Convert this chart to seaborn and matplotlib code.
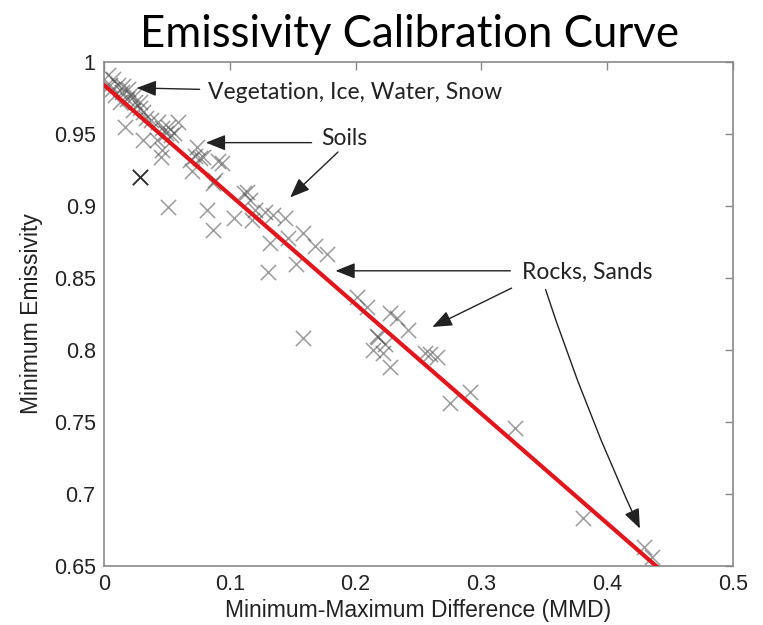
import numpy as np
import pandas as pd
import matplotlib
matplotlib.use("Agg")
import matplotlib.pyplot as plt
import seaborn as sns

# ---- data ----
mmd = [0.003, 0.007, 0.005, 0.011, 0.015, 0.009, 0.014, 0.013, 0.017, 0.023,
       0.025, 0.029, 0.029, 0.023, 0.031, 0.031, 0.043, 0.046, 0.051, 0.056,
       0.053, 0.059, 0.042, 0.046, 0.045, 0.029, 0.074, 0.072, 0.076, 0.068,
       0.070, 0.091, 0.088, 0.019, 0.021, 0.018, 0.006, 0.033, 0.037, 0.049,
       0.079, 0.094, 0.087, 0.082, 0.087, 0.051, 0.103, 0.114, 0.116, 0.120,
       0.118, 0.128, 0.134, 0.144, 0.132, 0.146, 0.158, 0.168, 0.177, 0.153,
       0.130, 0.111,
       0.201, 0.209, 0.227, 0.233, 0.242, 0.218, 0.214, 0.223, 0.222, 0.227,
       0.217, 0.255, 0.259, 0.265, 0.291, 0.275, 0.327, 0.381, 0.429, 0.436,
       0.158]
min_emis = [0.991, 0.988, 0.984, 0.984, 0.983, 0.977, 0.979, 0.972, 0.955, 0.976,
            0.972, 0.972, 0.968, 0.967, 0.946, 0.965, 0.958, 0.954, 0.955, 0.951,
            0.949, 0.958, 0.946, 0.939, 0.934, 0.920, 0.941, 0.935, 0.933, 0.932,
            0.924, 0.931, 0.918, 0.981, 0.977, 0.974, 0.981, 0.961, 0.960, 0.951,
            0.934, 0.930, 0.916, 0.897, 0.883, 0.899, 0.892, 0.910, 0.904, 0.897,
            0.890, 0.896, 0.894, 0.892, 0.874, 0.878, 0.881, 0.872, 0.867, 0.860,
            0.854, 0.909,
            0.837, 0.830, 0.826, 0.822, 0.814, 0.809, 0.800, 0.804, 0.798, 0.788,
            0.810, 0.798, 0.797, 0.795, 0.771, 0.763, 0.746, 0.683, 0.663, 0.656,
            0.808]
dark_mmd = [0.029]
dark_emis = [0.920]

fit_intercept = 0.984
fit_slope = -0.761
fit_x = [0.0, 0.44]

title = "Emissivity Calibration Curve"
xlabel = "Minimum-Maximum Difference (MMD)"
ylabel = "Minimum Emissivity"
xticks = [0, 0.1, 0.2, 0.3, 0.4, 0.5]
xticklabels = ["0", "0.1", "0.2", "0.3", "0.4", "0.5"]
yticks = [0.65, 0.7, 0.75, 0.8, 0.85, 0.9, 0.95, 1.0]
yticklabels = ["0.65", "0.7", "0.75", "0.8", "0.85", "0.9", "0.95", "1"]

# ---- figure ----
sns.set_style("white")
plt.rcParams["font.family"] = ["Liberation Sans", "DejaVu Sans"]

fig = plt.figure(figsize=(7.63, 6.25), dpi=100)
ax = fig.add_axes([0.1363, 0.0944, 0.8244, 0.8064])

df = pd.DataFrame({"mmd": mmd, "emis": min_emis})
sns.scatterplot(data=df, x="mmd", y="emis", ax=ax, marker="x", s=120,
                color="#4a4a4a", alpha=0.55, linewidth=1.1, zorder=2)
sns.scatterplot(x=dark_mmd, y=dark_emis, ax=ax, marker="x", s=120,
                color="#222222", alpha=0.9, linewidth=1.3, zorder=2)

line_df = pd.DataFrame({"x": fit_x,
                        "y": [fit_intercept + fit_slope * v for v in fit_x]})
sns.lineplot(data=line_df, x="x", y="y", ax=ax, color="#e0161c", linewidth=3,
             zorder=3)

ax.set_xlim(0, 0.5)
ax.set_ylim(0.65, 1.0)
ax.set_xticks(xticks)
ax.set_xticklabels(xticklabels)
ax.set_yticks(yticks)
ax.set_yticklabels(yticklabels)
ax.tick_params(direction="in", length=6, width=1, color="#888888",
               labelsize=15.5, labelcolor="#222222", top=True, right=True, pad=6)
for sp in ax.spines.values():
    sp.set_visible(True)
    sp.set_color("#8a8a8a")
    sp.set_linewidth(1.2)

ax.set_xlabel(xlabel, fontsize=16.5, color="#222222", labelpad=3)
ax.set_ylabel(ylabel, fontsize=16.5, color="#222222", labelpad=8)

fig.suptitle(title, x=0.537, y=0.978, fontsize=31.5, family=["Lato", "DejaVu Sans"],
             color="black", va="top")

# ---- annotations ----
afont = dict(fontsize=16.5, family=["Lato", "DejaVu Sans"], color="#222222",
             va="center", ha="left")
aprops = dict(arrowstyle="-|>,head_length=0.75,head_width=0.3", color="#222222",
              lw=1.0, shrinkA=0, shrinkB=0, mutation_scale=16)

ax.annotate("", xy=(0.026, 0.982), xytext=(0.076, 0.981), arrowprops=aprops)
ax.text(0.083, 0.979, "Vegetation, Ice, Water, Snow", **afont)

ax.text(0.173, 0.947, "Soils", **afont)
ax.annotate("", xy=(0.081, 0.944), xytext=(0.165, 0.944), arrowprops=aprops)
ax.annotate("", xy=(0.148, 0.906), xytext=(0.186, 0.9375), arrowprops=aprops)

ax.text(0.332, 0.854, "Rocks, Sands", **afont)
ax.annotate("", xy=(0.184, 0.855), xytext=(0.323, 0.855), arrowprops=aprops)
ax.annotate("", xy=(0.261, 0.816), xytext=(0.324, 0.843), arrowprops=aprops)
ax.annotate("", xy=(0.426, 0.676), xytext=(0.351, 0.842),
            arrowprops=dict(aprops, connectionstyle="arc3,rad=0.03"))

fig.savefig("out.png", dpi=100)
